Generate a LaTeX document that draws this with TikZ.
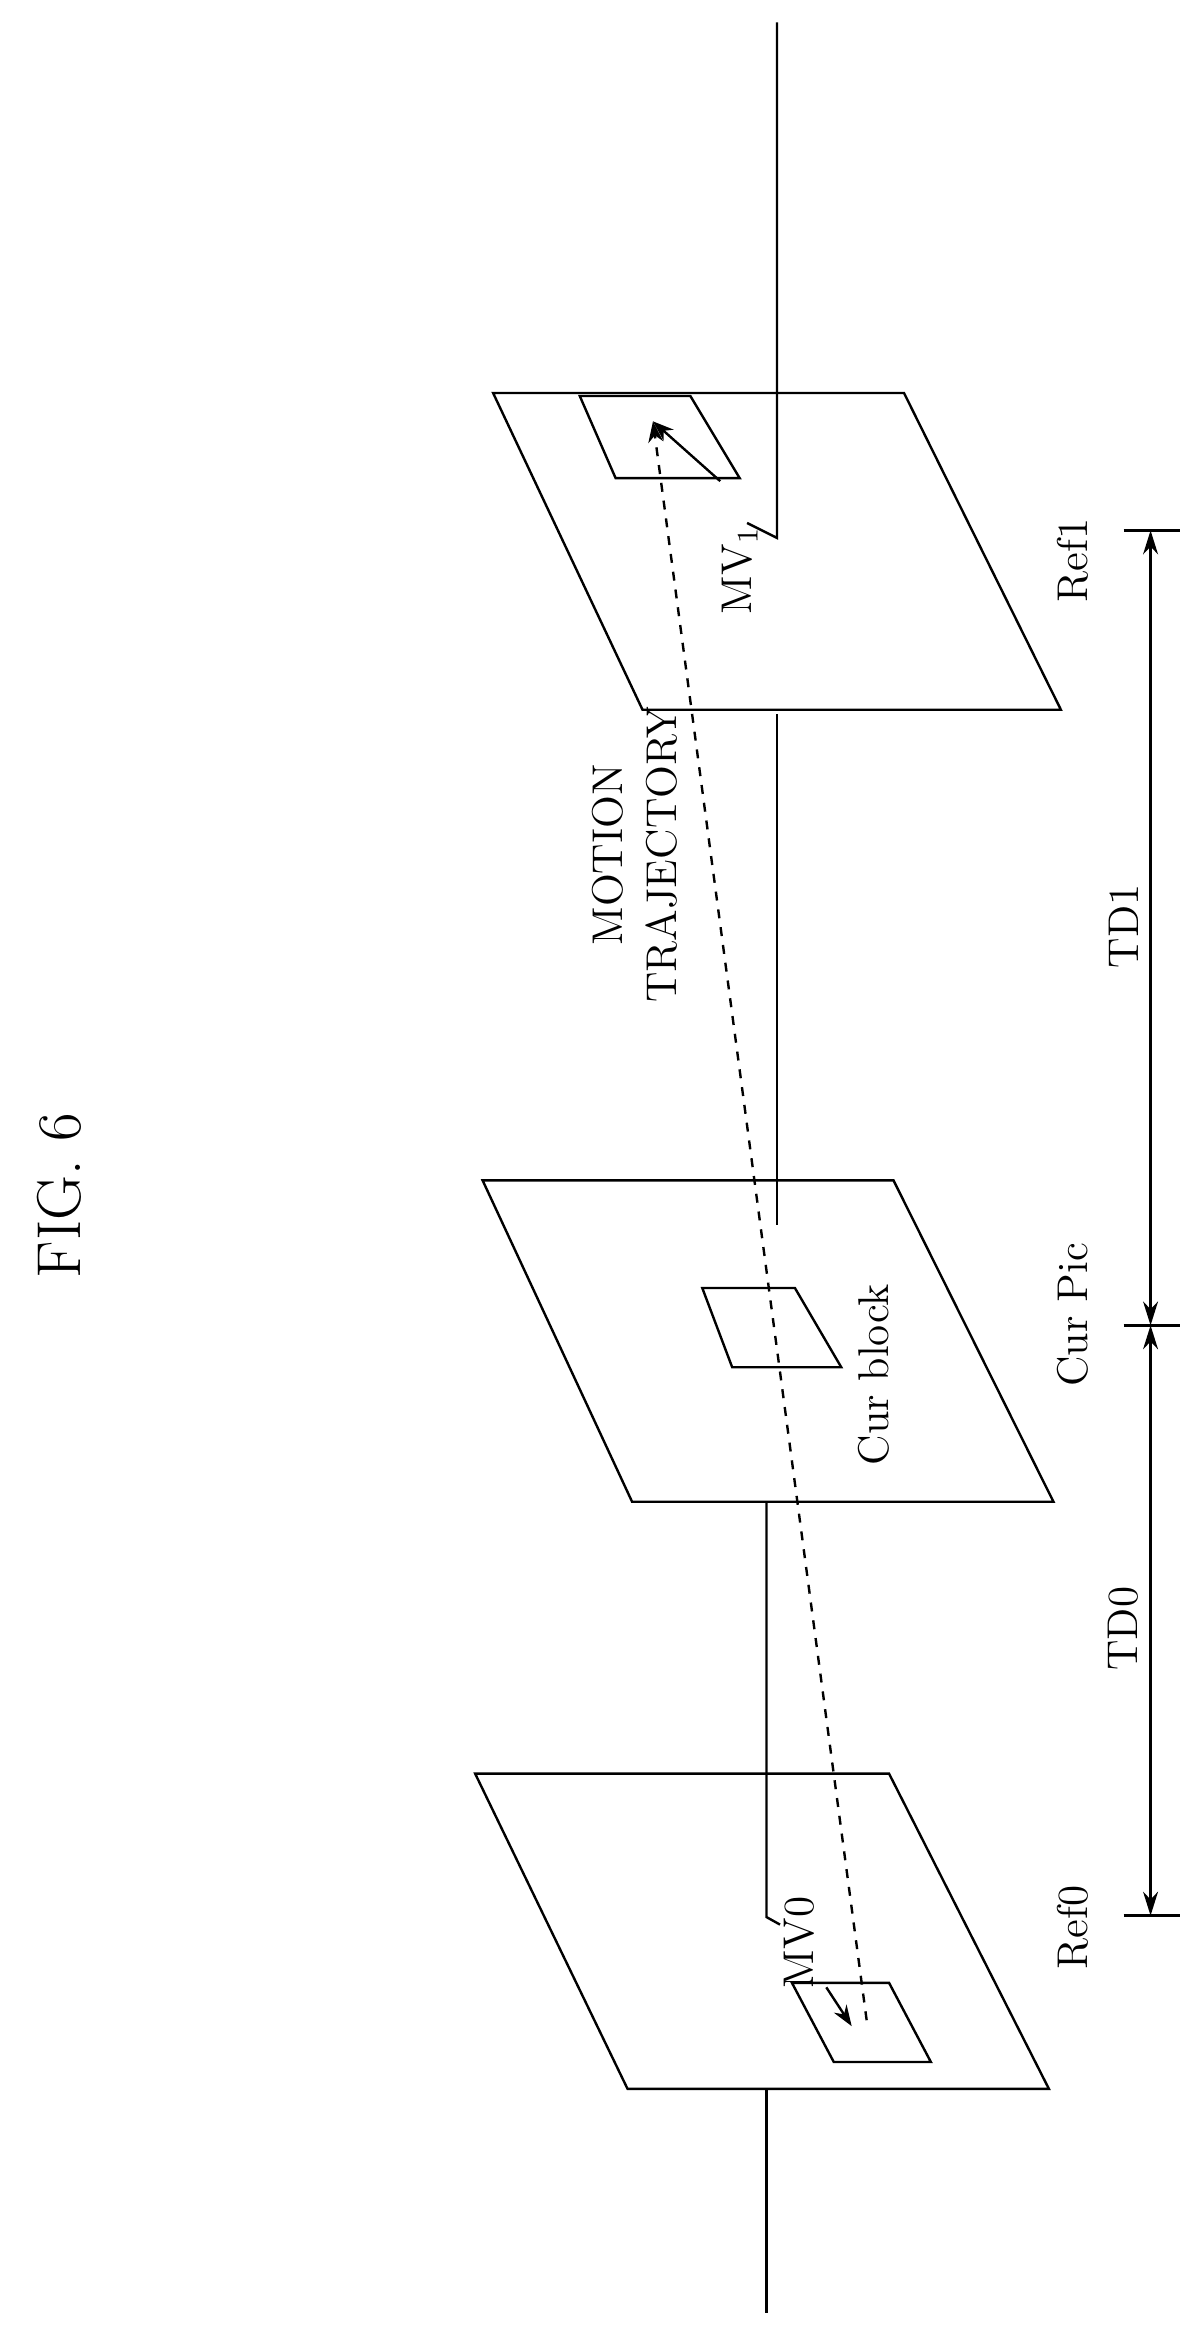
\documentclass[tikz,border=0pt]{standalone}
\usepackage{tikz}
\usetikzlibrary{arrows.meta, positioning}

\begin{document}
\begin{tikzpicture}[x=0.5pt, y=-0.5pt, line width=0.8pt,
    plane/.style={draw, line join=miter},
    lbl/.style={rotate=90, font=\Large, inner sep=1pt},
    mv/.style={-{Stealth[length=7pt, width=5pt]}}]
    \useasboundingbox (0,0) rectangle (805,1556);

    % pictures
    \draw[plane] (330,263) -- (605,263) -- (710,475) -- (430,475) -- cycle;
    \draw[plane] (323,790) -- (598,790) -- (705,1005) -- (423,1005) -- cycle;
    \draw[plane] (318,1187) -- (595,1187) -- (702,1398) -- (420,1398) -- cycle;

    % blocks
    \draw[plane] (388,265) -- (462,265) -- (495,320) -- (412,320) -- cycle;
    \draw[plane] (470,862) -- (532,862) -- (563,915) -- (490,915) -- cycle;
    \draw[plane] (530,1327) -- (595,1327) -- (623,1380) -- (558,1380) -- cycle;

    % time axis
    \draw (520,15) -- (520,360) -- (500,350);
    \draw (520,478) -- (520,820);
    \draw (513,1005) -- (513,1283) -- (522,1288);
    \draw (513,1398) -- (513,1548);

    % trajectory and motion vectors
    \coordinate (mvone) at (437,282);
    \coordinate (mvzero) at (570,1356);
    \draw[dashed, mv] (580,1352) -- (mvone);
    \draw[mv] (482,322) -- (mvone);
    \draw[mv] (553,1330) -- (mvzero);

    % distances
    \coordinate (t1) at (770,355);
    \coordinate (tc) at (770,887);
    \coordinate (t0) at (770,1282);
    \draw (752,355) -- (790,355);
    \draw (752,887) -- (790,887);
    \draw (752,1282) -- (790,1282);
    \draw[{Stealth[length=8pt, width=5pt]}-{Stealth[length=8pt, width=5pt]}] (t1) -- (tc);
    \draw[{Stealth[length=8pt, width=5pt]}-{Stealth[length=8pt, width=5pt]}] (tc) -- (t0);

    % labels
    \node[lbl, font=\huge] (fig) at (40,800) {FIG. 6};
    \node[lbl, align=center] (traj) at (425,572) {MOTION\\TRAJECTORY};
    \node[lbl] (curblk) at (585,920) {Cur block};
    \node[lbl] (curpic) at (718,880) {Cur Pic};
    \node[lbl] (refone) at (718,375) {Ref1};
    \node[lbl] (refzero) at (718,1290) {Ref0};
    \node[lbl] (mvonel) at (495,382) {MV$_1$};
    \node[lbl] (mvzerol) at (535,1300) {MV0};
    \node[lbl] (tdone) at (752,620) {TD1};
    \node[lbl] (tdzero) at (752,1090) {TD0};
\end{tikzpicture}
\end{document}
